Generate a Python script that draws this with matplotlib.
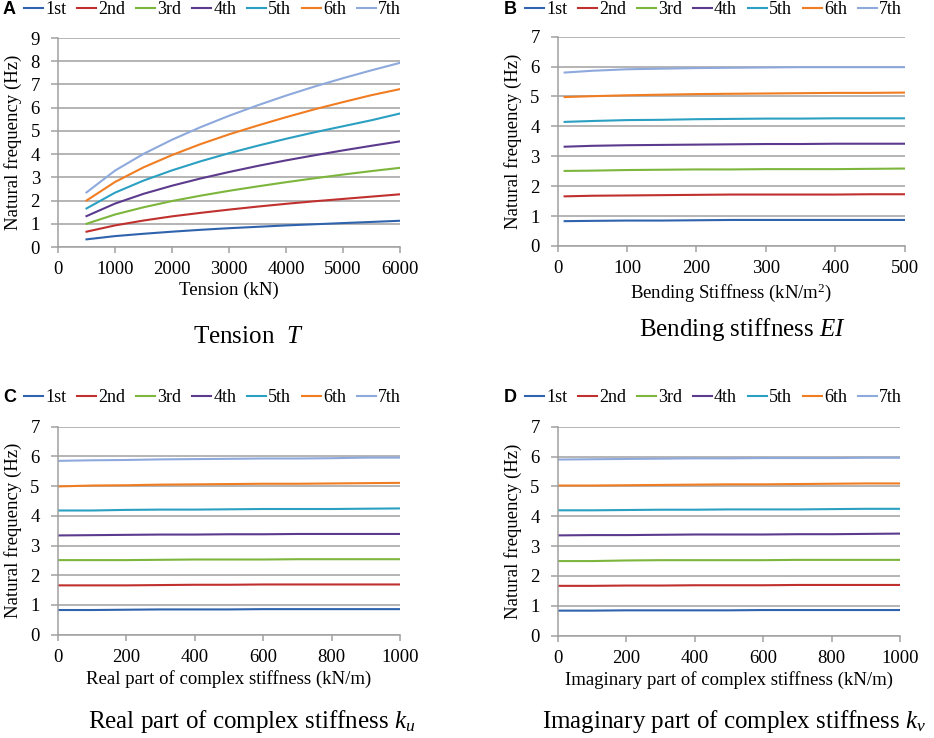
import matplotlib
matplotlib.use("Agg")
import matplotlib.pyplot as plt
import numpy as np

plt.rcParams['font.family'] = 'Liberation Serif'
plt.rcParams['mathtext.fontset'] = 'custom'
plt.rcParams['mathtext.rm'] = 'Liberation Serif'
plt.rcParams['mathtext.it'] = 'Liberation Serif:italic'

modes = ['1st', '2nd', '3rd', '4th', '5th', '6th', '7th']
colors = ['#2F63AD', '#C0302E', '#7DB63C', '#5C3B8E', '#2BA0C2', '#F07D22', '#8EA9DC']

# Panel A: tension
tension = [500, 1000, 1500, 2000, 2500, 3000, 3500, 4000, 4500, 5000, 5500, 6000]
freq_tension = [
    [0.33, 0.47, 0.57, 0.66, 0.74, 0.81, 0.87, 0.93, 0.98, 1.03, 1.08, 1.13],
    [0.66, 0.93, 1.14, 1.32, 1.47, 1.61, 1.74, 1.86, 1.97, 2.07, 2.17, 2.27],
    [1.00, 1.40, 1.71, 1.98, 2.21, 2.42, 2.61, 2.79, 2.96, 3.12, 3.27, 3.41],
    [1.33, 1.87, 2.29, 2.64, 2.95, 3.23, 3.49, 3.73, 3.95, 4.16, 4.36, 4.55],
    [1.66, 2.34, 2.86, 3.30, 3.69, 4.04, 4.36, 4.66, 4.94, 5.20, 5.46, 5.75],
    [2.00, 2.80, 3.43, 3.96, 4.43, 4.85, 5.23, 5.59, 5.93, 6.24, 6.54, 6.80],
    [2.35, 3.29, 4.01, 4.62, 5.16, 5.65, 6.10, 6.52, 6.91, 7.27, 7.61, 7.93],
]

# Panel B: bending stiffness
bending = [10, 50, 100, 150, 200, 250, 300, 350, 400, 450, 500]
freq_bending = [
    [0.83, 0.84, 0.85, 0.85, 0.86, 0.87, 0.87, 0.87, 0.87, 0.87, 0.87],
    [1.66, 1.68, 1.69, 1.70, 1.71, 1.72, 1.72, 1.72, 1.72, 1.73, 1.73],
    [2.51, 2.52, 2.54, 2.55, 2.56, 2.56, 2.57, 2.57, 2.57, 2.58, 2.59],
    [3.32, 3.35, 3.37, 3.38, 3.39, 3.40, 3.41, 3.41, 3.42, 3.42, 3.42],
    [4.15, 4.18, 4.21, 4.22, 4.24, 4.25, 4.26, 4.26, 4.27, 4.27, 4.27],
    [4.98, 5.01, 5.04, 5.06, 5.08, 5.09, 5.10, 5.11, 5.12, 5.12, 5.13],
    [5.80, 5.86, 5.91, 5.93, 5.95, 5.96, 5.97, 5.98, 5.98, 5.98, 5.98],
]

# Panel C: real part of complex stiffness
k_real = [0, 100, 200, 300, 400, 500, 600, 700, 800, 900, 1000]
freq_real = [
    [0.83, 0.83, 0.84, 0.85, 0.85, 0.85, 0.86, 0.86, 0.86, 0.86, 0.86],
    [1.66, 1.66, 1.66, 1.67, 1.68, 1.68, 1.69, 1.69, 1.69, 1.69, 1.69],
    [2.51, 2.51, 2.51, 2.52, 2.53, 2.53, 2.53, 2.54, 2.54, 2.54, 2.54],
    [3.34, 3.35, 3.36, 3.37, 3.37, 3.38, 3.38, 3.39, 3.39, 3.39, 3.39],
    [4.18, 4.18, 4.20, 4.21, 4.21, 4.22, 4.23, 4.23, 4.23, 4.24, 4.25],
    [4.99, 5.02, 5.03, 5.05, 5.06, 5.07, 5.08, 5.08, 5.09, 5.10, 5.11],
    [5.85, 5.87, 5.88, 5.90, 5.91, 5.92, 5.93, 5.93, 5.94, 5.96, 5.96],
]

# Panel D: imaginary part of complex stiffness
k_imag = [0, 100, 200, 300, 400, 500, 600, 700, 800, 900, 1000]
freq_imag = [
    [0.84, 0.84, 0.85, 0.85, 0.85, 0.85, 0.86, 0.86, 0.86, 0.86, 0.86],
    [1.67, 1.67, 1.68, 1.68, 1.69, 1.69, 1.69, 1.70, 1.70, 1.70, 1.70],
    [2.50, 2.50, 2.52, 2.53, 2.53, 2.53, 2.53, 2.54, 2.54, 2.54, 2.54],
    [3.36, 3.37, 3.37, 3.38, 3.39, 3.39, 3.39, 3.40, 3.40, 3.41, 3.42],
    [4.20, 4.20, 4.21, 4.22, 4.22, 4.23, 4.23, 4.23, 4.24, 4.25, 4.25],
    [5.03, 5.03, 5.04, 5.05, 5.06, 5.07, 5.07, 5.08, 5.09, 5.10, 5.10],
    [5.90, 5.91, 5.92, 5.93, 5.94, 5.94, 5.95, 5.95, 5.95, 5.96, 5.96],
]

panels = [
    # letter, x, series, xmax, xstep, ymax, xlabel, title, axes rect, legend anchor, letter pos, title pos
    ('A', tension, freq_tension, 6000, 1000, 9, 'Tension (kN)', r'Tension  $T$',
     [0.0621, 0.6653, 0.3662, 0.2832], (0.026, 0.987), (0.003, 0.987), (0.266, 0.543)),
    ('B', bending, freq_bending, 500, 100, 7, r'Bending Stiffness (kN/m$^2$)', r'Bending stiffness $EI$',
     [0.5971, 0.6667, 0.3715, 0.2836], (0.562, 0.987), (0.539, 0.987), (0.795, 0.553)),
    ('C', k_real, freq_real, 1000, 200, 7, 'Real part of complex stiffness (kN/m)',
     r'Real part of complex stiffness $k_u$',
     [0.0618, 0.1400, 0.3665, 0.2818], (0.026, 0.461), (0.003, 0.461), (0.270, 0.022)),
    ('D', k_imag, freq_imag, 1000, 200, 7, 'Imaginary part of complex stiffness (kN/m)',
     r'Imaginary part of complex stiffness $k_v$',
     [0.5971, 0.1386, 0.3668, 0.2832], (0.562, 0.461), (0.539, 0.461), (0.786, 0.022)),
]

fig = plt.figure(figsize=(9.34, 7.38), dpi=100)
grey = '#A0A0A0'

for letter, xs, series, xmax, xstep, ymax, xlabel, title, rect, leg_pos, let_pos, tit_pos in panels:
    ax = fig.add_axes(rect)
    lines = []
    for i in range(7):
        ln, = ax.plot(xs, series[i], color=colors[i], lw=1.5, label=modes[i])
        lines.append(ln)
    ax.set_xlim(0, xmax)
    ax.set_ylim(0, ymax)
    ax.set_xticks(np.arange(0, xmax + 1, xstep))
    ax.set_yticks(np.arange(0, ymax + 1, 1))
    ax.yaxis.grid(True, color=grey, lw=1.1)
    ax.set_axisbelow(True)
    for s in ['top', 'right']:
        ax.spines[s].set_visible(False)
    for s in ['left', 'bottom']:
        ax.spines[s].set_color(grey)
        ax.spines[s].set_linewidth(1.1)
    ax.tick_params(axis='both', colors=grey, labelcolor='black', labelsize=13.5, width=1.1)
    ax.tick_params(axis='y', length=5, pad=8)
    ax.tick_params(axis='x', length=4, pad=6)
    ax.set_xlabel(xlabel, fontsize=13.5, labelpad=3)
    ax.set_ylabel('Natural frequency (Hz)', fontsize=13.5, labelpad=6)
    fig.legend(handles=lines, loc='center left', bbox_to_anchor=leg_pos, ncol=7,
               frameon=False, fontsize=13, handlelength=1.05, handletextpad=0.12,
               columnspacing=0.6, borderaxespad=0, borderpad=0)
    fig.text(let_pos[0], let_pos[1], letter, family='Liberation Sans', weight='bold',
             fontsize=13, va='center', ha='left')
    fig.text(tit_pos[0], tit_pos[1], title, fontsize=18, ha='center', va='center')

fig.savefig('out.png', dpi=100)
